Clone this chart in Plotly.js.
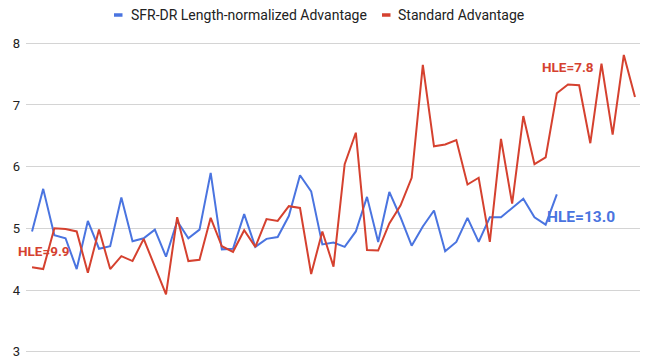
<!DOCTYPE html>
<html>
<head>
<meta charset="utf-8">
<script src="https://cdn.plot.ly/plotly-3.0.1.min.js"></script>
<style>html,body{margin:0;padding:0;background:#fff;}#chart{width:645px;height:356px;}</style>
</head>
<body>
<div id="chart"></div>
<script>
// ---- data ----
const seriesNames = ["SFR-DR Length-normalized Advantage", "Standard Advantage"];
const sfrValues = [4.95,5.64,4.89,4.84,4.34,5.12,4.67,4.71,5.50,4.79,4.84,4.98,4.54,5.12,4.84,4.98,5.90,4.66,4.67,5.23,4.70,4.83,4.86,5.20,5.86,5.60,4.74,4.77,4.70,4.95,5.51,4.78,5.59,5.18,4.72,5.03,5.29,4.63,4.78,5.17,4.78,5.18,5.18,5.33,5.48,5.18,5.06,5.55];
const stdValues = [4.37,4.34,5.00,4.99,4.95,4.28,4.98,4.34,4.55,4.47,4.83,4.38,3.93,5.18,4.47,4.49,5.17,4.71,4.62,4.97,4.70,5.15,5.12,5.36,5.33,4.26,4.95,4.38,6.04,6.55,4.65,4.64,5.08,5.37,5.82,7.65,6.33,6.36,6.43,5.71,5.82,4.78,6.45,5.40,6.82,6.04,6.15,7.19,7.33,7.32,6.38,7.67,6.52,7.81,7.13];
const yTickVals = [3,4,5,6,7,8];
const labelTexts = ["HLE=9.9", "HLE=7.8", "HLE=13.0"];

// ---- styling ----
const BLUE = "#4a74e0", RED = "#d5412f";
const W = 645, H = 356, ML = 26, MR = 5, MT = 42, MB = 3;
const pw = W - ML - MR, ph = H - MT - MB;
const px = x => (x - ML) / pw;
const py = y => (H - MB - y) / ph;

const traces = [
  {x: sfrValues.map((_, i) => i), y: sfrValues, name: seriesNames[0], type: "scatter", mode: "lines",
   line: {color: BLUE, width: 2}, showlegend: false, hoverinfo: "skip"},
  {x: stdValues.map((_, i) => i), y: stdValues, name: seriesNames[1], type: "scatter", mode: "lines",
   line: {color: RED, width: 2}, showlegend: false, hoverinfo: "skip"}
];

const fontFam = "Roboto, Arial, sans-serif";
const layout = {
  width: W, height: H,
  margin: {l: ML, r: MR, t: MT, b: MB, pad: 0},
  paper_bgcolor: "#fff", plot_bgcolor: "#fff",
  showlegend: false,
  xaxis: {range: [-0.54, 54.45], showgrid: false, zeroline: false, showticklabels: false, ticks: "", showline: false},
  yaxis: {range: [2.98, 8.02], tickvals: yTickVals, ticktext: yTickVals.map(String), showgrid: true, gridcolor: "#d4d4d4", gridwidth: 1,
          zeroline: false, showline: false, ticks: "", ticklabelstandoff: 5, ticklabeloverflow: "allow",
          tickfont: {family: fontFam, size: 13, color: "#222"}},
  shapes: [
    {type: "line", xref: "paper", yref: "paper", x0: px(114), x1: px(122.5), y0: py(15), y1: py(15), line: {color: BLUE, width: 3.5}},
    {type: "line", xref: "paper", yref: "paper", x0: px(382), x1: px(390.5), y0: py(15), y1: py(15), line: {color: RED, width: 3.5}}
  ],
  annotations: [
    {xref: "paper", yref: "paper", x: px(129), y: py(15), xanchor: "left", yanchor: "middle", showarrow: false,
     text: seriesNames[0], font: {family: fontFam, size: 14, color: "#222"}},
    {xref: "paper", yref: "paper", x: px(396), y: py(15), xanchor: "left", yanchor: "middle", showarrow: false,
     text: seriesNames[1], font: {family: fontFam, size: 14, color: "#222"}},
    {xref: "x", yref: "y", x: 1.03, y: 4.63, showarrow: false, xanchor: "center", yanchor: "middle",
     text: "<b>" + labelTexts[0] + "</b>", font: {family: fontFam, size: 13.5, color: RED}},
    {xref: "x", yref: "y", x: 47.98, y: 7.62, showarrow: false, xanchor: "center", yanchor: "middle",
     text: "<b>" + labelTexts[1] + "</b>", font: {family: fontFam, size: 13.5, color: RED}},
    {xref: "x", yref: "y", x: 49.2, y: 5.18, showarrow: false, xanchor: "center", yanchor: "middle",
     text: "<b>" + labelTexts[2] + "</b>", font: {family: fontFam, size: 15.5, color: BLUE}}
  ]
};

Plotly.newPlot("chart", traces, layout, {staticPlot: true, displayModeBar: false});
</script>
</body>
</html>
